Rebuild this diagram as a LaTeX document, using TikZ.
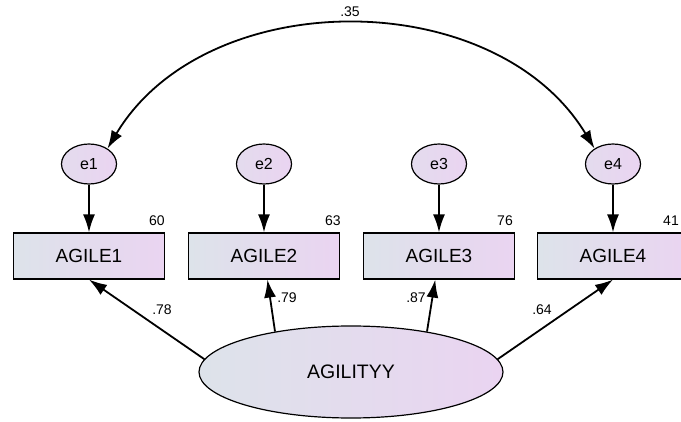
\documentclass[tikz,border=0pt]{standalone}
\usepackage{fontspec}
\setmainfont{Liberation Sans}
\usetikzlibrary{arrows.meta, shapes.geometric, calc}
\definecolor{shadeleft}{HTML}{DDE3EA}
\definecolor{shaderight}{HTML}{EAD4F1}

\begin{document}
\begin{tikzpicture}[x=1pt, y=-1pt,
  obsbox/.style={draw, line width=1.2pt, rectangle, minimum width=151pt, minimum height=46pt,
    left color=shadeleft, right color=shaderight, font=\fontsize{19}{21}\selectfont},
  errnode/.style={draw, line width=1.2pt, ellipse, minimum width=55pt, minimum height=40pt, inner sep=0pt,
    left color=shadeleft!50!shaderight, right color=shaderight, font=\fontsize{16}{18}\selectfont},
  latnode/.style={draw, line width=1.2pt, ellipse, minimum width=304pt, minimum height=92pt,
    left color=shadeleft, right color=shaderight, font=\fontsize{19.5}{22}\selectfont},
  regpath/.style={line width=1.8pt, -{Latex[length=18pt,width=12pt]}},
  corpath/.style={line width=1.8pt, {Latex[length=18pt,width=12pt]}-{Latex[length=18pt,width=12pt]}},
  coef/.style={font=\fontsize{14}{16}\selectfont, inner sep=0pt}
]
\useasboundingbox (0,0) rectangle (681,422);

% Error terms
\node[errnode] (e1) at (89,164) {e1};
\node[errnode] (e2) at (264,164) {e2};
\node[errnode] (e3) at (439,164) {e3};
\node[errnode] (e4) at (613,164) {e4};

% Observed items
\node[obsbox] (a1) at (89,256) {AGILE1};
\node[obsbox] (a2) at (264,256) {AGILE2};
\node[obsbox] (a3) at (439,256) {AGILE3};
\node[obsbox] (a4) at (613,256) {AGILE4};

% Latent factor
\node[latnode] (lv) at (351,372) {AGILITYY};

% Errors to items
\draw[regpath] (e1) -- (a1);
\draw[regpath] (e2) -- (a2);
\draw[regpath] (e3) -- (a3);
\draw[regpath] (e4) -- (a4);

% Loadings
\draw[regpath] (lv.175) -- (a1.south);
\draw[regpath] (lv.152) -- (a2);
\draw[regpath] (lv.28) -- (a3);
\draw[regpath] (lv.5) -- (a4.south);

% Correlated errors
\draw[corpath] (e1.40) .. controls (206,-16) and (495,-16) .. (e4.140);
\node[coef] (c14) at (350,12) {.35};

% Coefficients
\node[coef] (l1) at (162,310) {.78};
\node[coef] (l2) at (287,298) {.79};
\node[coef] (l3) at (416,298) {.87};
\node[coef] (l4) at (542,310) {.64};
\node[coef] (r1) at (157,221) {60};
\node[coef] (r2) at (333,221) {63};
\node[coef] (r3) at (505,221) {76};
\node[coef] (r4) at (671,221) {41};
\end{tikzpicture}
\end{document}
